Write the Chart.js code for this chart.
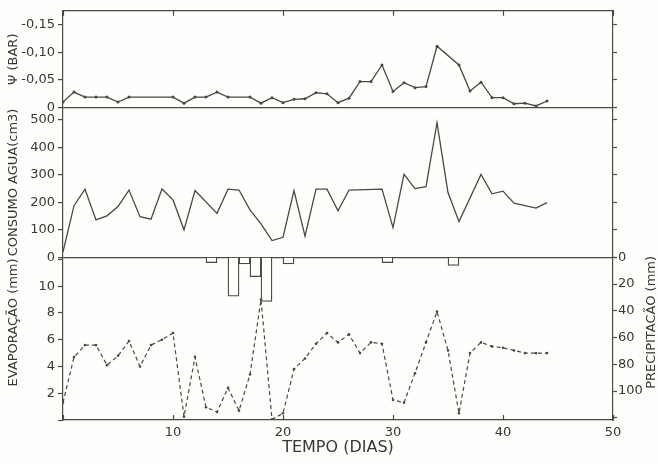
<!DOCTYPE html>
<html>
<head>
<meta charset="utf-8">
<script src="https://cdn.jsdelivr.net/npm/chart.js@4.4.1/dist/chart.umd.min.js"></script>
<style>
  html, body { margin: 0; padding: 0; background: #fefefc; }
  canvas { display: block; }
</style>
</head>
<body>
<canvas id="grafico" width="658" height="464"></canvas>
<script>
// valores (dias)
const psiDays = [0, 1, 2, 3, 4, 5, 6, 10, 11, 12, 13, 14, 15, 17, 18, 19, 20, 21, 22, 23, 24, 25, 26, 27, 28, 29, 30, 31, 32, 33, 34, 36, 37, 38, 39, 40, 41, 42, 43, 44];
const psiValues = [-0.010, -0.028, -0.019, -0.019, -0.019, -0.010, -0.019, -0.019, -0.008, -0.019, -0.019, -0.028, -0.019, -0.019, -0.008, -0.018, -0.009, -0.015, -0.016, -0.027, -0.025, -0.009, -0.017, -0.047, -0.047, -0.077, -0.029, -0.045, -0.036, -0.038, -0.111, -0.077, -0.030, -0.046, -0.018, -0.018, -0.007, -0.008, -0.003, -0.012];

const consDays = [0, 1, 2, 3, 4, 5, 6, 7, 8, 9, 10, 11, 12, 14, 15, 16, 17, 18, 19, 20, 21, 22, 23, 24, 25, 26, 29, 30, 31, 32, 33, 34, 35, 36, 38, 39, 40, 41, 43, 44];
const consValues = [20, 188, 248, 136, 151, 185, 245, 148, 139, 249, 209, 100, 243, 160, 248, 245, 173, 122, 61, 73, 243, 77, 248, 248, 169, 245, 248, 108, 302, 250, 257, 490, 236, 130, 302, 231, 241, 197, 179, 199];

const evapDays = [0, 1, 2, 3, 4, 5, 6, 7, 8, 9, 10, 11, 12, 13, 14, 15, 16, 17, 18, 19, 20, 21, 22, 23, 24, 25, 26, 27, 28, 29, 30, 31, 32, 33, 34, 35, 36, 37, 38, 39, 40, 41, 42, 43, 44];
const evapValues = [1.3, 4.7, 5.6, 5.6, 4.1, 4.8, 5.9, 4.0, 5.6, 6.0, 6.5, 0.25, 4.7, 0.95, 0.6, 2.4, 0.7, 3.4, 9.0, 0.05, 0.5, 3.8, 4.6, 5.7, 6.5, 5.8, 6.4, 5.0, 5.8, 5.7, 1.5, 1.3, 3.5, 5.8, 8.1, 5.2, 0.5, 5.0, 5.8, 5.5, 5.4, 5.2, 5.0, 5.0, 5.0];

const precDays = [13.5, 15.5, 16.5, 17.5, 18.5, 20.5, 29.5, 35.5];
const precValues = [4, 29, 5, 14.5, 33, 5, 4, 6];

const INK = '#4b4843';
const TEXT = '#3a3733';
const FONT = '"DejaVu Sans", sans-serif';

Chart.defaults.font.family = FONT;
Chart.defaults.font.size = 13;
Chart.defaults.color = TEXT;

const toPoints = (xs, ys) => xs.map((x, i) => ({ x: x, y: ys[i] }));
// so a linha do zero separa os paineis
const zeroLine = c => (c.tick && c.tick.value === 0 ? INK : 'rgba(0,0,0,0)');
const fitLeft = s => { s.width = 63; };
const fitRight = s => { s.width = 45; };
const fmtPsi = v => (v === 0 ? '0' : v.toFixed(2).replace('.', ','));

// titulos de evaporação / precipitação (o da direita lê de baixo para cima)
const sideTitles = {
  id: 'sideTitles',
  afterDraw(chart) {
    const ctx = chart.ctx;
    const ev = chart.scales.yEvap, pr = chart.scales.yPrec;
    const cy = ev.top + (ev.bottom - ev.top) * 0.4;
    ctx.save();
    ctx.fillStyle = TEXT;
    ctx.font = '13px ' + FONT;
    ctx.textAlign = 'center';
    ctx.textBaseline = 'middle';
    [[ev.left + 14, 'EVAPORAÇÃO (mm)'], [pr.right - 6, 'PRECIPITACÃO (mm)']].forEach(([x, t]) => {
      ctx.save();
      ctx.translate(x, cy);
      ctx.rotate(-Math.PI / 2);
      ctx.fillText(t, 0, 0);
      ctx.restore();
    });
    ctx.restore();
  }
};

const border = { color: INK, width: 1.2 };

new Chart(document.getElementById('grafico'), {
  type: 'line',
  data: {
    datasets: [
      {
        data: toPoints(psiDays, psiValues), yAxisID: 'yPsi',
        borderColor: INK, borderWidth: 1.3, pointRadius: 1.5, pointBackgroundColor: INK, pointBorderWidth: 0
      },
      {
        data: toPoints(consDays, consValues), yAxisID: 'yCons',
        borderColor: INK, borderWidth: 1.3, pointRadius: 0
      },
      {
        data: toPoints(evapDays, evapValues), yAxisID: 'yEvap',
        borderColor: INK, borderWidth: 1.2, borderDash: [4, 3], pointRadius: 1.3, pointBackgroundColor: INK, pointBorderWidth: 0
      },
      {
        type: 'bar', data: toPoints(precDays, precValues), yAxisID: 'yPrec',
        backgroundColor: '#fefefc', borderColor: INK, borderWidth: 1.3,
        barPercentage: 1, categoryPercentage: 1
      }
    ]
  },
  options: {
    responsive: false,
    animation: false,
    layout: { padding: 0 },
    plugins: { legend: { display: false }, tooltip: { enabled: false } },
    scales: {
      x: {
        type: 'linear', position: 'bottom', min: 0, max: 50, offset: false,
        ticks: { stepSize: 10, padding: 10, callback: v => (v === 0 ? '' : v) },
        grid: { drawOnChartArea: false, offset: false, tickLength: -5, tickColor: INK, tickWidth: 1.2 },
        border: border,
        title: { display: true, text: 'TEMPO (DIAS)', font: { size: 16 }, padding: { top: 0, bottom: 7 } },
        afterFit: s => { s.height = 44; }
      },
      xTop: {
        type: 'linear', position: 'top', min: 0, max: 50, offset: false,
        ticks: { stepSize: 10, display: false },
        grid: { drawOnChartArea: false, tickLength: -5, tickColor: INK, tickWidth: 1.2 },
        border: border,
        afterFit: s => { s.height = 10; }
      },
      // eixos da esquerda empilhados (o ultimo fica em cima)
      yEvap: {
        position: 'left', stack: 'esq', stackWeight: 163, min: 0, max: 12.16,
        ticks: { stepSize: 2, includeBounds: false, autoSkip: false, padding: 3, callback: v => (v === 0 || v === 12 ? '' : v) },
        grid: { color: 'rgba(0,0,0,0)', tickColor: INK, tickLength: 5, tickWidth: 1.2 },
        border: border,
        afterFit: fitLeft
      },
      yCons: {
        position: 'left', stack: 'esq', stackWeight: 150, min: 0, max: 545,
        ticks: { stepSize: 100, includeBounds: false, autoSkip: false, padding: 3 },
        grid: { color: zeroLine, lineWidth: 1.2, tickColor: INK, tickLength: 5, tickWidth: 1.2 },
        border: border,
        title: { display: true, text: 'CONSUMO AGUA(cm3)', padding: { top: 6 } },
        afterFit: fitLeft
      },
      yPsi: {
        position: 'left', stack: 'esq', stackWeight: 97, reverse: true, min: -0.175, max: 0,
        ticks: { stepSize: 0.05, includeBounds: false, autoSkip: false, padding: 3, callback: fmtPsi },
        grid: { color: zeroLine, lineWidth: 1.2, tickColor: INK, tickLength: 5, tickWidth: 1.2 },
        border: border,
        title: { display: true, text: 'Ψ (BAR)', padding: { top: 6 } },
        afterFit: fitLeft
      },
      // eixos da direita (o primeiro fica em cima)
      yPsiR: {
        position: 'right', stack: 'dir', stackWeight: 97, reverse: true, min: -0.175, max: 0,
        ticks: { stepSize: 0.05, includeBounds: false, autoSkip: false, display: false },
        grid: { drawOnChartArea: false, tickColor: INK, tickLength: 4, tickWidth: 1.2 },
        border: border,
        afterFit: fitRight
      },
      yConsR: {
        position: 'right', stack: 'dir', stackWeight: 150, min: 0, max: 545,
        ticks: { stepSize: 100, includeBounds: false, autoSkip: false, display: false },
        grid: { drawOnChartArea: false, tickColor: INK, tickLength: 4, tickWidth: 1.2 },
        border: border,
        afterFit: fitRight
      },
      yPrec: {
        position: 'right', stack: 'dir', stackWeight: 163, reverse: true, min: 0, max: 121.6,
        ticks: { stepSize: 20, includeBounds: false, autoSkip: false, padding: 1, callback: v => (v === 120 ? '' : v) },
        grid: { drawOnChartArea: false, tickColor: INK, tickLength: 4, tickWidth: 1.2 },
        border: border,
        afterFit: fitRight
      }
    }
  },
  plugins: [sideTitles]
});
</script>
</body>
</html>
